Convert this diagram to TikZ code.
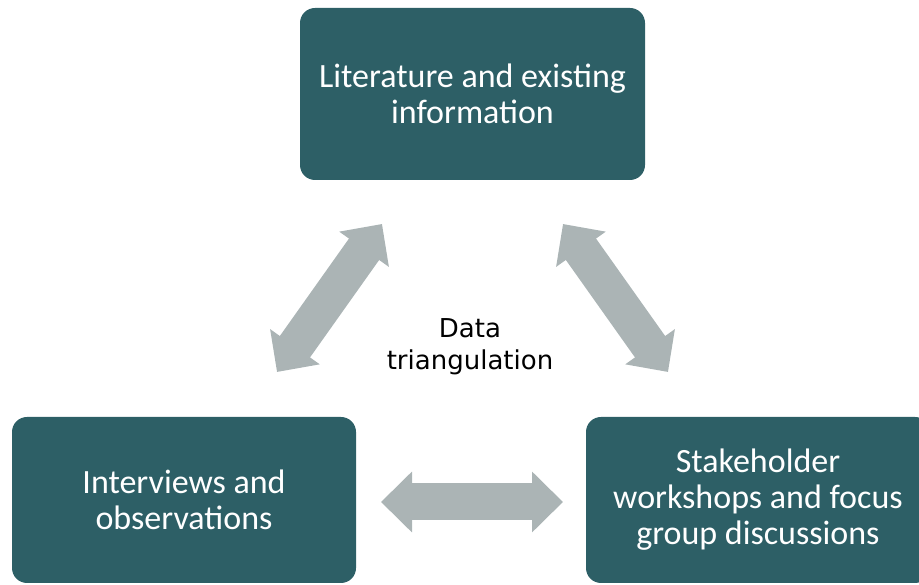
\documentclass[tikz,border=0pt]{standalone}
\usepackage{fontspec}
\setmainfont{Carlito}
\newfontfamily\dejavu{DejaVu Sans}
\usepackage{tikz}
\usetikzlibrary{positioning, arrows.meta, calc}
\definecolor{boxteal}{HTML}{2D5F66}
\definecolor{arrowgray}{HTML}{ABB4B5}

\begin{document}
\begin{tikzpicture}[x=1pt, y=1pt, >=stealth,
		sourcebox/.style={rounded corners=15pt, fill=boxteal, text=white, align=center,
			minimum width=344pt, minimum height=166pt, inner sep=0pt,
			font=\fontsize{34}{36}\selectfont},
		linkarrow/.style={arrowgray, line width=37pt,
			{Triangle[width=59pt, length=31pt]}-{Triangle[width=59pt, length=31pt]}}]
		
		% Frame
		\useasboundingbox (0,0) rectangle (919,585);
		\clip (0,0) rectangle (919,585);
		
		% Draw the three sources
		\node[sourcebox, minimum width=345pt, minimum height=172pt] (lit) at (472.5,491) {Literature and existing\\information};
		\node[sourcebox] (intv) at (184,85) {Interviews and\\observations};
		\node[sourcebox] (stake) at (758,85) {Stakeholder\\workshops and focus\\group discussions};
		
		% Arrow ends
		\coordinate (l1) at (277,213);
		\coordinate (l2) at (382,361);
		\coordinate (r1) at (563,361);
		\coordinate (r2) at (668,213);
		\coordinate (h1) at (381,83);
		\coordinate (h2) at (563,83);
		
		% Draw arrows
		\draw[linkarrow] (l1) -- (l2);
		\draw[linkarrow] (r1) -- (r2);
		\draw[linkarrow] (h1) -- (h2);
		
		% Centre label
		\node[align=center, font=\dejavu\fontsize{26}{32}\selectfont] (tri) at (470,238) {Data\\triangulation};
		
	\end{tikzpicture}
\end{document}
